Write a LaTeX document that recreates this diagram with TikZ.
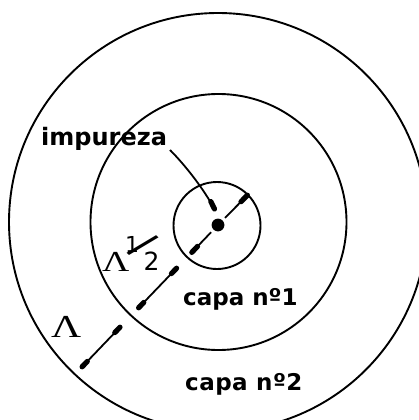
\documentclass[tikz,border=0pt]{standalone}
\usepackage{fontspec}
\usetikzlibrary{calc}
\newfontfamily\lblfont{DejaVu Sans Bold}
\newfontfamily\digfont{DejaVu Sans}
\newfontfamily\lamfont{Liberation Serif}
\newcommand{\fsz}[1]{\fontsize{#1}{#1}\selectfont}
\begin{document}
\begin{tikzpicture}[x=1pt,y=-1pt,
  ring/.style={line width=1.9pt},
  dimline/.style={line width=1.8pt},
  blob/.style={line width=5.2pt,line cap=round},
  lbl/.style={inner sep=0pt,font=\lblfont\fsz{23}},
  sym/.style={inner sep=0pt}]
\useasboundingbox (0,0) rectangle (419,420);
\clip (0,0) rectangle (419,420);
% centres
\coordinate (c) at (218,225);
\coordinate (co) at (218,222);
% rings
\draw[ring] (co) circle[radius=209];
\draw[ring] (218.5,222) circle[radius=128];
\draw[ring] (217,225.5) circle[radius=43.5];
\fill (c) circle[radius=6.4];
% dimension segments
\coordinate (a1) at ($(c)+(7,-7.1)$);
\coordinate (a2) at ($(c)+(29.4,-29.8)$);
\coordinate (a2i) at ($(c)+(23,-23.3)$);
\coordinate (b1) at ($(c)+(-6.9,7.2)$);
\coordinate (b2) at ($(c)+(-26.2,27.4)$);
\coordinate (b2i) at ($(c)+(-20.5,21.4)$);
\coordinate (m1) at ($(c)+(-41.4,43.2)$);
\coordinate (m1i) at ($(c)+(-46.6,48.6)$);
\coordinate (m2) at ($(c)+(-79.4,82.8)$);
\coordinate (m2i) at ($(c)+(-74.2,77.4)$);
\coordinate (o1) at ($(c)+(-98,102.2)$);
\coordinate (o1i) at ($(c)+(-103.2,107.6)$);
\coordinate (o2) at ($(c)+(-135.9,141.8)$);
\coordinate (o2i) at ($(c)+(-130.7,136.4)$);
\draw[dimline] (a1) -- (a2);
\draw[blob] (a2i) -- (a2);
\draw[dimline] (b1) -- (b2);
\draw[blob] (b2i) -- (b2);
\draw[dimline] (m1) -- (m2);
\draw[blob] (m1) -- (m1i);
\draw[blob] (m2i) -- (m2);
\draw[dimline] (o1) -- (o2);
\draw[blob] (o1) -- (o1i);
\draw[blob] (o2i) -- (o2);
% labels
\node[lbl,anchor=base west,font=\lblfont\fsz{24}] (imp) at (41,145) {impureza};
\node[lbl,anchor=base west] (capa1) at (183,305) {capa nº1};
\node[lbl,anchor=base west] (capa2) at (185,390) {\addfontfeature{LetterSpace=2}capa nº2};
\node[sym,anchor=base west] (lamo) at (51,337) {\lamfont\fsz{32}\scalebox{1.3}[1]{Λ}};
\node[sym,anchor=base west] (lamh) at (102,271) {\lamfont\fsz{29}\scalebox{1.3}[1]{Λ}};
\node[sym] (one) at (132,244.5) {\digfont\fsz{22}1};
\node[sym,rotate=-42] (slash) at (143,246) {\digfont\fsz{40}/};
\node[sym] (two) at (151.5,261.5) {\digfont\fsz{25}2};
% arrow to impurity
\coordinate (arrs) at (170,150);
\coordinate (arre) at (214.5,209);
\coordinate (arri) at (210.8,201.5);
\draw[dimline] (arrs) .. controls (185,165) and (203,188) .. (arre);
\draw[blob] (arri) -- (arre);
\end{tikzpicture}
\end{document}
